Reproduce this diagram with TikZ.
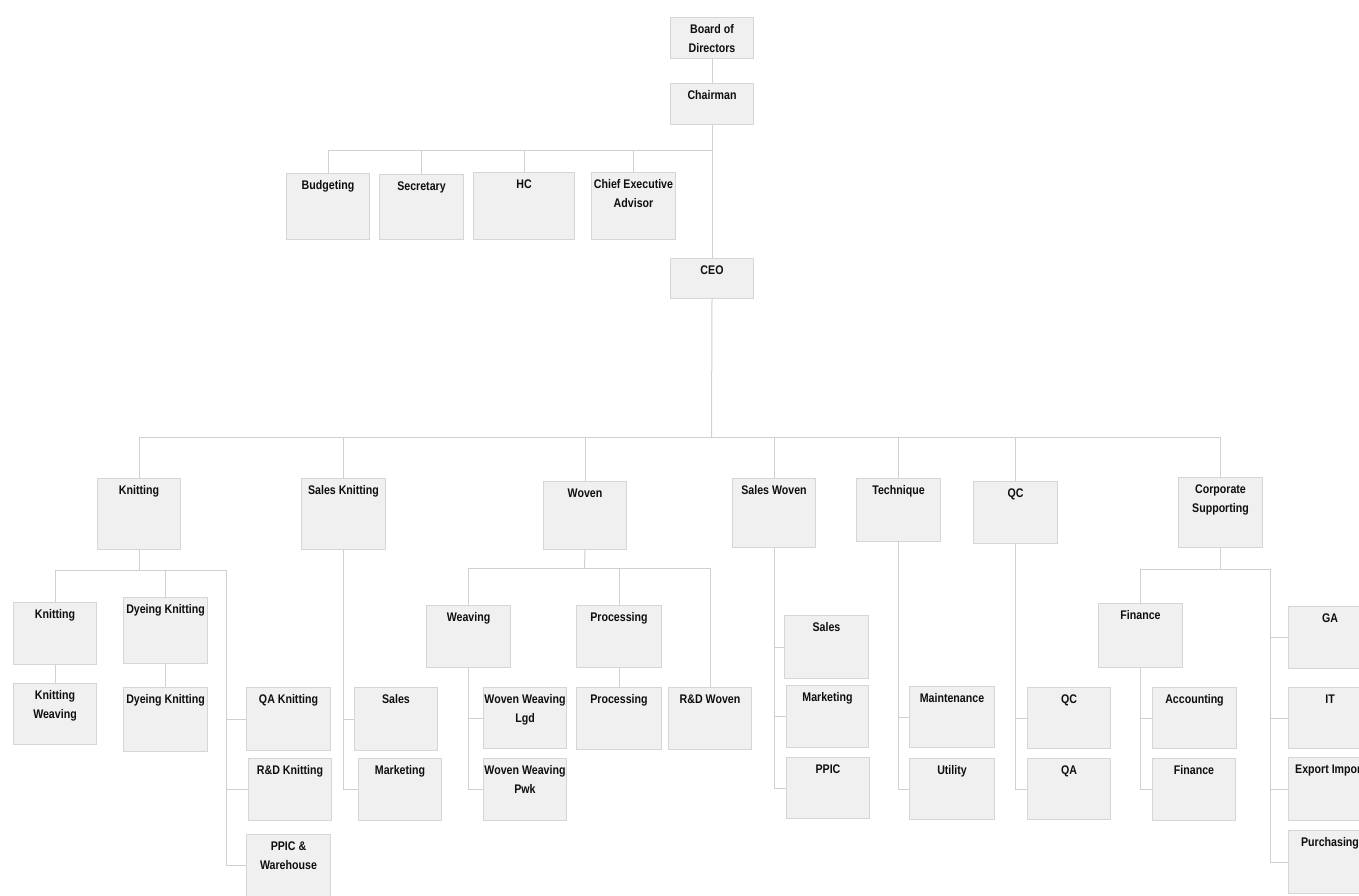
\documentclass[tikz,border=0pt]{standalone}
\usepackage{fontspec}
\setmainfont{Liberation Sans}[FakeStretch=0.85]
\definecolor{boxfill}{RGB}{240,240,240}
\definecolor{boxline}{RGB}{214,214,214}
\definecolor{connline}{RGB}{208,208,208}
\definecolor{txt}{RGB}{15,15,15}
\tikzset{
  box/.style={draw=boxline, fill=boxfill, line width=1pt, inner sep=0pt},
  lbl/.style={inner sep=0pt, align=center, text=txt, font=\fontsize{12.5}{19}\selectfont\bfseries},
  conn/.style={draw=connline, line width=1pt}
}
\newcommand\bx[6]{%
  \node[box, minimum width=#4pt, minimum height=#5pt, anchor=north west] (#1) at (#2,#3) {};
  \node[lbl, anchor=north] (#1t) at ([yshift=-6.5pt]#1.north) {\rule{0pt}{10pt}#6};
}
\begin{document}
\begin{tikzpicture}[x=1pt,y=-1pt]
\useasboundingbox (0,0) rectangle (1359,895);
\fill[white] (0,0) rectangle (1359,895);
\clip (0,0) rectangle (1359,895);
% junction coordinates
\coordinate (j1) at (711.5,150);
\coordinate (j2) at (711.5,437);
\coordinate (k3) at (226,570);
\coordinate (w3) at (584.5,568);
\coordinate (c3) at (1270,569);
% boxes
\bx{board}{670}{17}{83}{41}{Board of\\Directors}
\bx{chair}{670}{83}{83}{41}{Chairman}
\bx{bud}{286}{173}{83}{66}{Budgeting}
\bx{sec}{379}{174}{84}{65}{Secretary}
\bx{hc}{473}{172}{101}{67}{HC}
\bx{cea}{591}{172}{84}{67}{Chief Executive\\Advisor}
\bx{ceo}{670}{258}{83}{40}{CEO}
\bx{kn}{97}{478}{83}{71}{Knitting}
\bx{sk}{301}{478}{84}{71}{Sales Knitting}
\bx{wv}{543}{481}{83}{68}{Woven}
\bx{sw}{732}{478}{83}{69}{Sales Woven}
\bx{tq}{856}{478}{84}{63}{Technique}
\bx{qc}{973}{481}{84}{62}{QC}
\bx{cs}{1178}{477}{84}{70}{Corporate\\Supporting}
\bx{kna}{13}{602}{83}{62}{Knitting}
\bx{knw}{13}{683}{83}{61}{Knitting\\Weaving}
\bx{dka}{123}{597}{84}{66}{Dyeing Knitting}
\bx{dkb}{123}{687}{84}{64}{Dyeing Knitting}
\bx{qak}{246}{687}{84}{63}{QA Knitting}
\bx{rdk}{248}{758}{83}{62}{R\&D Knitting}
\bx{ppw}{246}{834}{84}{62}{PPIC \&\\Warehouse}
\bx{sks}{354}{687}{83}{63}{Sales}
\bx{skm}{358}{758}{83}{62}{Marketing}
\bx{wea}{426}{605}{84}{62}{Weaving}
\bx{pro}{576}{605}{85}{62}{Processing}
\bx{prob}{576}{687}{85}{62}{Processing}
\bx{rdw}{668}{687}{83}{62}{R\&D Woven}
\bx{wwl}{483}{687}{83}{61}{Woven Weaving\\Lgd}
\bx{wwp}{483}{758}{83}{62}{Woven Weaving\\Pwk}
\bx{sws}{784}{615}{84}{63}{Sales}
\bx{swm}{786}{685}{82}{62}{Marketing}
\bx{swp}{786}{757}{83}{61}{PPIC}
\bx{mnt}{909}{686}{85}{61}{Maintenance}
\bx{utl}{909}{758}{85}{61}{Utility}
\bx{qcb}{1027}{687}{83}{61}{QC}
\bx{qa}{1027}{758}{83}{61}{QA}
\bx{fin}{1098}{603}{84}{64}{Finance}
\bx{acc}{1152}{687}{84}{61}{Accounting}
\bx{finb}{1152}{758}{83}{62}{Finance}
\bx{ga}{1288}{606}{83}{62}{GA}
\bx{it}{1288}{687}{83}{61}{IT}
\bx{exi}{1288}{757}{83}{63}{Export Import}
\bx{pur}{1288}{830}{83}{63}{Purchasing}
% connectors
\path[conn] (board.south) -- (chair.north);
\path[conn] (chair.south) -- (ceo.north);
\path[conn] (j1) -- (j1 -| bud.north) -- (bud.north);
\path[conn] (j1 -| sec.north) -- (sec.north);
\path[conn] (j1 -| hc.north) -- (hc.north);
\path[conn] (j1 -| cea.north) -- (cea.north);
\path[conn] (ceo.south) -- (j2);
\path[conn] (j2 -| kn.north) -- (j2 -| cs.north);
\foreach \n in {kn,sk,wv,sw,tq,qc,cs} { \path[conn] (j2 -| \n.north) -- (\n.north); }
% Knitting
\path[conn] (kn.south) -- (kn.south |- k3);
\path[conn] (kna.north) -- (kna.north |- k3) -- (k3) -- (k3 |- ppw.west) -- (ppw.west);
\path[conn] (dka.north |- k3) -- (dka.north);
\path[conn] (k3 |- qak.west) -- (qak.west);
\path[conn] (k3 |- rdk.west) -- (rdk.west);
\path[conn] (kna.south) -- (knw.north);
\path[conn] (dka.south) -- (dkb.north);
% Sales Knitting
\path[conn] (sk.south) -- (sk.south |- skm.west) -- (skm.west);
\path[conn] (sk.south |- sks.west) -- (sks.west);
% Woven
\path[conn] (wv.south) -- (w3);
\path[conn] (wea.north) -- (wea.north |- w3) -- (rdw.north |- w3) -- (rdw.north);
\path[conn] (pro.north |- w3) -- (pro.north);
\path[conn] (pro.south) -- (prob.north);
\path[conn] (wea.south) -- (wea.south |- wwp.west) -- (wwp.west);
\path[conn] (wea.south |- wwl.west) -- (wwl.west);
% Sales Woven
\path[conn] (sw.south) -- (sw.south |- swp.west) -- (swp.west);
\path[conn] (sw.south |- sws.west) -- (sws.west);
\path[conn] (sw.south |- swm.west) -- (swm.west);
% Technique
\path[conn] (tq.south) -- (tq.south |- utl.west) -- (utl.west);
\path[conn] (tq.south |- mnt.west) -- (mnt.west);
% QC
\path[conn] (qc.south) -- (qc.south |- qa.west) -- (qa.west);
\path[conn] (qc.south |- qcb.west) -- (qcb.west);
% Corporate Supporting
\path[conn] (cs.south) -- (cs.south |- c3);
\path[conn] (fin.north) -- (fin.north |- c3) -- (c3) -- (c3 |- pur.west) -- (pur.west);
\path[conn] (c3 |- ga.west) -- (ga.west);
\path[conn] (c3 |- it.west) -- (it.west);
\path[conn] (c3 |- exi.west) -- (exi.west);
\path[conn] (fin.south) -- (fin.south |- finb.west) -- (finb.west);
\path[conn] (fin.south |- acc.west) -- (acc.west);
\end{tikzpicture}
\end{document}
